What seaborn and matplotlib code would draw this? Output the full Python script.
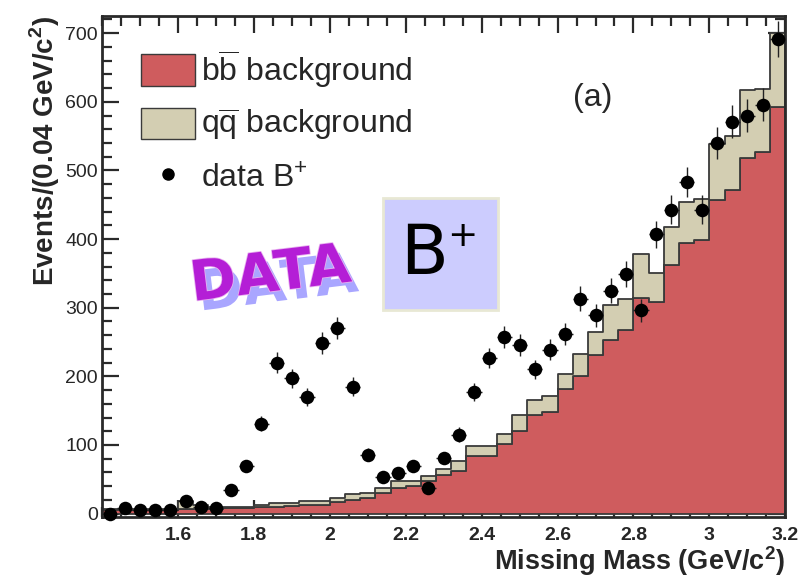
import numpy as np
import pandas as pd
import matplotlib
matplotlib.use("Agg")
import matplotlib.pyplot as plt
import matplotlib.patheffects as pe
from matplotlib.patches import Patch, Rectangle
from matplotlib.lines import Line2D
from matplotlib.ticker import MultipleLocator
import seaborn as sns

# ---------------- data ----------------
bin_width = 0.04
x_lo, x_hi = 1.40, 3.20
# b-bbar background per bin (bottom layer)
bb_bkg = [5, 5, 5, 5, 5, 6, 6, 7, 8, 8, 9, 10, 11, 12, 13, 17, 20, 22, 30, 38,
          40, 47, 56, 62, 84, 84, 102, 121, 143, 148, 181, 201, 231, 253, 267,
          314, 308, 362, 394, 399, 457, 471, 518, 527, 593]
# q-qbar background per bin (stacked on top)
qq_bkg = [2, 2, 2, 2, 2, 13, 6, 3, 2, 2, 4, 5, 5, 6, 6, 5, 8, 8, 8, 10,
          8, 8, 9, 14, 15, 15, 14, 22, 22, 24, 23, 32, 34, 51, 46,
          64, 43, 56, 60, 59, 81, 79, 99, 92, 107]
# data B+ per bin
data_counts = [0, 8, 5, 5, 5, 18, 10, 8, 35, 70, 131, 220, 197, 170, 249, 271,
               185, 86, 54, 59, 69, 38, 81, 115, 177, 227, 258, 246, 210, 239,
               262, 313, 289, 325, 349, 296, 407, 443, 483, 443, 540, 571, 580,
               596, 692]
data_err = [1, 3, 2, 2, 2, 4, 3, 3, 6, 8, 11, 15, 14, 13, 16, 16, 14, 9, 7, 8,
            8, 6, 9, 11, 13, 15, 16, 16, 14, 15, 16, 18, 17, 18, 19, 17, 20,
            21, 22, 21, 23, 24, 24, 24, 26]
x_ticks = [1.6, 1.8, 2.0, 2.2, 2.4, 2.6, 2.8, 3.0, 3.2]
x_ticklabels = ["1.6", "1.8", "2", "2.2", "2.4", "2.6", "2.8", "3", "3.2"]
y_ticks = [0, 100, 200, 300, 400, 500, 600, 700]

n_bins = len(bb_bkg)
edges = [float(e) for e in np.linspace(x_lo, x_hi, n_bins + 1)]
centers = [0.5 * (edges[i] + edges[i + 1]) for i in range(n_bins)]

RED = "#cf5c5e"
TAN = "#d3ceb2"
EDGE = "#3a3a3a"

sns.set_style("ticks")
plt.rcParams["font.family"] = ["Liberation Sans", "DejaVu Sans"]
plt.rcParams["mathtext.fontset"] = "custom"
plt.rcParams["mathtext.rm"] = "Liberation Sans"
plt.rcParams["mathtext.bf"] = "Liberation Sans:bold"

fig = plt.figure(figsize=(8.03, 5.78), dpi=100)
ax = fig.add_axes([0.127, 0.1055, 0.851, 0.8668])

df = pd.DataFrame({
    "mass": centers + centers,
    "count": [float(v) for v in qq_bkg] + [float(v) for v in bb_bkg],
    "comp": ["qq"] * n_bins + ["bb"] * n_bins,
})
sns.histplot(data=df, x="mass", weights="count", hue="comp",
             hue_order=["qq", "bb"], bins=edges, multiple="stack",
             element="step", palette={"bb": RED, "qq": TAN},
             edgecolor=EDGE, linewidth=1.3, alpha=1, legend=False, ax=ax)

# data points with error bars
ax.errorbar(centers, data_counts, yerr=data_err, xerr=bin_width / 2,
            fmt="none", ecolor="#222222", elinewidth=1.0, capsize=0,
            zorder=5, clip_on=False)
sns.scatterplot(x=centers, y=data_counts, color="black", s=95,
                edgecolor="black", linewidth=0, zorder=6, ax=ax,
                clip_on=False)

ax.set_xlim(x_lo, x_hi)
ax.set_ylim(-5, 725)
ax.set_xticks(x_ticks)
ax.set_xticklabels(x_ticklabels, fontsize=14, fontweight="bold")
ax.set_yticks(y_ticks)
ax.set_yticklabels([str(v) for v in y_ticks], fontsize=14)
ax.xaxis.set_minor_locator(MultipleLocator(0.05))
ax.yaxis.set_minor_locator(MultipleLocator(20))
ax.tick_params(which="both", direction="in", top=True, right=True,
               color="#2a2a2a", width=1.6)
ax.tick_params(which="major", length=12)
ax.tick_params(which="minor", length=7)
ax.tick_params(axis="x", pad=7)
ax.tick_params(axis="y", pad=3)
for s in ax.spines.values():
    s.set_linewidth(2.0)
    s.set_color("#2a2a2a")

ax.set_xlabel(r"Missing Mass (GeV/c$^{\mathbf{2}}$)", fontsize=19.5,
              fontweight="bold", loc="right", labelpad=0)
ax.set_ylabel(r"Events/(0.04 GeV/c$^{\mathbf{2}}$)", fontsize=20,
              fontweight="bold", loc="top", labelpad=2)

handles = [Patch(facecolor=RED, edgecolor=EDGE, linewidth=1.0),
           Patch(facecolor=TAN, edgecolor=EDGE, linewidth=1.0),
           Line2D([], [], marker="o", color="black", linestyle="none",
                  markersize=8)]
labels = [r"b$\overline{\mathrm{b}}$ background",
          r"q$\overline{\mathrm{q}}$ background",
          r"data B$^{+}$"]
ax.legend(handles, labels, loc="upper left", bbox_to_anchor=(0.038, 0.962),
          frameon=False, fontsize=23, handlelength=1.7, handleheight=1.15,
          handletextpad=0.2, labelspacing=0.55, borderaxespad=0)

ax.text(0.718, 0.836, "(a)", transform=ax.transAxes, fontsize=23,
        ha="center", va="center")

# WordArt-like "DATA"
fig.text(0.337, 0.522, "DATA", fontsize=40, fontweight="heavy",
         family="DejaVu Sans", color="#b41ed6", rotation=7,
         ha="center", va="center",
         path_effects=[pe.SimplePatchShadow(offset=(5, -7),
                                             shadow_rgbFace="#a9a6ff",
                                             alpha=1.0),
                       pe.Stroke(linewidth=1.2, foreground="#e8b0f0"),
                       pe.Normal()])

# "B+" box
fig.patches.append(Rectangle((383 / 803, 1 - 310 / 578), 115 / 803,
                             112 / 578, transform=fig.transFigure,
                             facecolor="#ccccfe", edgecolor="#e8e8d4",
                             linewidth=2, zorder=3))
fig.text(424 / 803, 1 - 254 / 578, "B", fontsize=50,
         family="DejaVu Sans", color="black", ha="center", va="center",
         zorder=4)
fig.text(462 / 803, 1 - 236 / 578, "+", fontsize=26,
         family="DejaVu Sans", color="black", ha="center", va="center",
         zorder=4)

fig.savefig("out.png", dpi=100)
